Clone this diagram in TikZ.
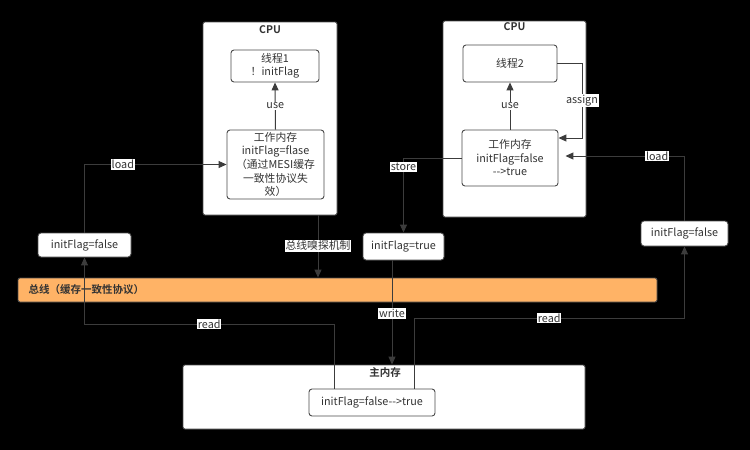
\documentclass[tikz,border=0pt]{standalone}
\usepackage{fontspec}
\setmainfont{Noto Sans CJK SC}[BoldFont={Noto Sans CJK SC Bold}]
\usetikzlibrary{arrows.meta,calc}
\definecolor{txt}{HTML}{333333}
\definecolor{edge}{HTML}{3C3C3C}
\definecolor{bord}{HTML}{4A4A4A}
\definecolor{busfill}{HTML}{FFB366}
\begin{document}
\begin{tikzpicture}[x=1pt,y=-1pt,
  box/.style={draw=bord,line width=0.9pt,fill=white,rounded corners=3pt,inner sep=1pt,
    text=txt,align=center,font=\fontsize{10.8}{13.5}\selectfont},
  outer/.style={draw=bord,line width=0.9pt,fill=white,rounded corners=2pt,inner sep=0pt},
  conn/.style={draw=edge,line width=1pt},
  arr/.style={conn,-{Triangle[length=8pt,width=7pt]}},
  lbl/.style={fill=white,text=txt,inner sep=0.8pt,font=\fontsize{10.8}{12}\selectfont},
  ttl/.style={text=txt,font=\fontsize{10.5}{12}\selectfont\bfseries}]
\useasboundingbox[fill=black] (0,0) rectangle (750,450);

% CPU 1
\node[outer,minimum width=134pt,minimum height=193pt] (cpu1) at (270,118.5) {};
\node[ttl] (cpu1t) at (270,30) {CPU};
\node[box,minimum width=88pt,minimum height=32pt] (t1) at (275,66) {线程1\\！initFlag};
\node[box,minimum width=97pt,minimum height=69pt,font=\fontsize{10.8}{13.6}\selectfont] (wm1) at (275.5,164.5)
  {工作内存\\initFlag=flase\\（通过MESI缓存\\一致性协议失\\效）};

% CPU 2
\node[outer,minimum width=143pt,minimum height=196pt] (cpu2) at (514.5,119) {};
\node[ttl] (cpu2t) at (514.5,27) {CPU};
\node[box,minimum width=94pt,minimum height=37pt] (t2) at (510,63.5) {线程2};
\node[box,minimum width=96pt,minimum height=56pt] (wm2) at (510,158) {工作内存\\initFlag=false\\-{}->true};

% value boxes
\node[box,minimum width=81pt,minimum height=27pt] (ift) at (403.5,246.5) {initFlag=true};
\node[box,minimum width=93pt,minimum height=24pt] (ifl) at (84.5,245) {initFlag=false};
\node[box,minimum width=87pt,minimum height=25pt] (ifr) at (684.5,233.5) {initFlag=false};

% bus
\node[draw=bord,line width=0.9pt,fill=busfill,rounded corners=2pt,minimum width=639pt,minimum height=24pt,inner sep=0pt] (bus) at (337.5,290) {};
\node[ttl,anchor=west] (bust) at (25,290) {总线（缓存一致性协议）};

% main memory
\node[outer,minimum width=402pt,minimum height=64pt] (mm) at (384,397) {};
\node[ttl] (mmt) at (385,373) {主内存};
\node[box,minimum width=126pt,minimum height=27pt] (mmi) at (372,402.5) {initFlag=false-{}->true};

% connectors
\draw[arr] (wm1.north) -- node[lbl]{use} (t1.south);
\draw[arr] (wm2.north) -- node[lbl]{use} (t2.south);
\draw[arr] (t2.east) -- (582,63.5) -- node[lbl]{assign} (582,138) -- ([yshift=20pt]wm2.east);
\draw[arr] (wm2.west) -- (403.5,158) -- node[lbl,pos=0.12]{store} (ift.north);
\draw[arr] (ifr.north) -- (684.5,156) -- node[lbl,pos=0.23]{load} ([shift={(7pt,2pt)}]wm2.east);
\draw[arr] (ifl.north) -- (84.5,164.5) -- node[lbl,pos=0.27]{load} (wm1.west);
\coordinate (s1) at ([xshift=48pt]cpu1.south);
\draw[arr] (s1) -- node[lbl,pos=0.49]{总线嗅探机制} (s1 |- bus.north);
\coordinate (w1) at ([xshift=-11.5pt]ift.south);
\draw[arr] (w1) -- node[lbl,pos=0.51]{write} (w1 |- mm.north);
\coordinate (r1) at ([xshift=-38pt]mmi.north);
\draw[arr] (r1) -- (334,324) -- node[lbl,pos=0.5]{read} (84.5,324) -- (ifl.south);
\coordinate (r2) at ([xshift=42pt]mmi.north);
\draw[arr] (r2) -- (414,318) -- node[lbl,pos=0.5]{read} (684.5,318) -- (ifr.south);
\end{tikzpicture}
\end{document}
